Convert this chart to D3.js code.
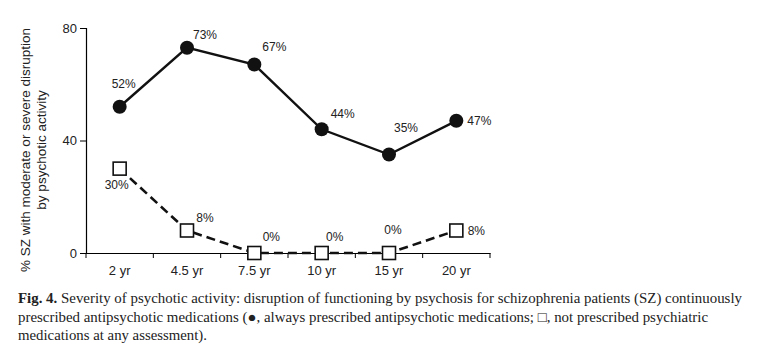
<!DOCTYPE html>
<html>
<head>
<meta charset="utf-8">
<script src="https://cdn.jsdelivr.net/npm/d3@7"></script>
<style>
body { margin: 0; background: #fff; }
svg { display: block; }
</style>
</head>
<body>
<script>
var categories = ["2 yr", "4.5 yr", "7.5 yr", "10 yr", "15 yr", "20 yr"];
var alwaysPrescribed = [52, 73, 67, 44, 35, 47];
var notPrescribed = [30, 8, 0, 0, 0, 8];
var yTicks = [0, 40, 80];

var width = 776;
var height = 349;
var svg = d3.select("body").append("svg")
    .attr("width", width)
    .attr("height", height);

var x = d3.scaleBand().domain(categories).range([86, 490]).padding(0);
var y = d3.scaleLinear().domain([0, 80]).range([253, 28]);
function cx(d, i){ return x(categories[i]) + x.bandwidth() / 2; }

// axes
var yAxis = svg.append("g")
    .attr("transform", "translate(86,0)")
    .call(d3.axisLeft(y).tickValues(yTicks).tickSize(6).tickPadding(3));
var xAxis = svg.append("g")
    .attr("transform", "translate(0,253)")
    .call(d3.axisBottom(x).tickSize(0).tickPadding(13));
// tick marks sit on the band edges, not the centres
var edges = categories.map(function(c){ return x(c); }).concat([490]);
xAxis.selectAll(".edge").data(edges).enter().append("line")
    .attr("x1", function(d){ return d; })
    .attr("x2", function(d){ return d; })
    .attr("y1", 0).attr("y2", 5)
    .attr("stroke", "#000");
svg.selectAll(".domain").attr("stroke", "#000").attr("stroke-width", 1.2);
svg.selectAll(".tick text")
    .attr("fill", "#222")
    .style("font-family", "Liberation Sans, Arial, sans-serif")
    .style("font-size", "13px");

// y title
var title = svg.append("text")
    .attr("transform", "translate(30,150) rotate(-90)")
    .attr("text-anchor", "middle")
    .style("font-family", "Liberation Sans, Arial, sans-serif")
    .style("font-size", "13.5px")
    .attr("fill", "#222");
title.append("tspan").attr("x", 0).attr("dy", 0).text("% SZ with moderate or severe disruption");
title.append("tspan").attr("x", 0).attr("dy", 16).text("by psychotic activity");

// lines
var line = d3.line()
    .x(function(d, i){ return cx(d, i); })
    .y(function(d){ return y(d); });

svg.append("path").datum(notPrescribed)
    .attr("d", line)
    .attr("fill", "none")
    .attr("stroke", "#111")
    .attr("stroke-width", 2.6)
    .attr("stroke-dasharray", "9,5");

svg.append("path").datum(alwaysPrescribed)
    .attr("d", line)
    .attr("fill", "none")
    .attr("stroke", "#111")
    .attr("stroke-width", 2.4);

svg.selectAll(".sq").data(notPrescribed).enter().append("rect")
    .attr("x", function(d, i){ return cx(d, i) - 6.5; })
    .attr("y", function(d){ return y(d) - 6.5; })
    .attr("width", 13).attr("height", 13)
    .attr("fill", "#fff")
    .attr("stroke", "#111")
    .attr("stroke-width", 1.6);

svg.selectAll(".dot").data(alwaysPrescribed).enter().append("circle")
    .attr("cx", cx)
    .attr("cy", function(d){ return y(d); })
    .attr("r", 7)
    .attr("fill", "#111");

// value labels, offsets
var dotOff = [[4, -22], [18, -12], [20, -17], [21, -14], [17, -26], [23, 1]];
var sqOff = [[-3, 17], [18, -12], [17, -15], [13, -15], [4, -22], [20, 1]];
function labels(data, off){
    svg.selectAll(null).data(data).enter().append("text")
        .attr("x", function(d, i){ return cx(d, i) + off[i][0]; })
        .attr("y", function(d, i){ return y(d) + off[i][1]; })
        .attr("text-anchor", "middle")
        .attr("dominant-baseline", "middle")
        .style("font-family", "Liberation Sans, Arial, sans-serif")
        .style("font-size", "12px")
        .attr("fill", "#222")
        .text(function(d){ return d + "%"; });
}
labels(alwaysPrescribed, dotOff);
labels(notPrescribed, sqOff);

// caption
var cap = svg.append("g")
    .style("font-family", "Liberation Serif, Times New Roman, serif")
    .style("font-size", "14.5px")
    .attr("fill", "#222");
var l1 = cap.append("text").attr("x", 18).attr("y", 303).attr("textLength", 724).attr("lengthAdjust", "spacingAndGlyphs");
l1.append("tspan").style("font-weight", "bold").text("Fig. 4.");
l1.append("tspan").text(" Severity of psychotic activity: disruption of functioning by psychosis for schizophrenia patients (SZ) continuously");
var l2 = cap.append("text").attr("x", 18).attr("y", 322).attr("textLength", 690).attr("lengthAdjust", "spacingAndGlyphs");
l2.append("tspan").text("prescribed antipsychotic medications (\u25CF, always prescribed antipsychotic medications; \u25A1, not prescribed psychiatric");
cap.append("text").attr("x", 18).attr("y", 340).attr("textLength", 189).attr("lengthAdjust", "spacingAndGlyphs")
    .text("medications at any assessment).");
</script>
</body>
</html>
